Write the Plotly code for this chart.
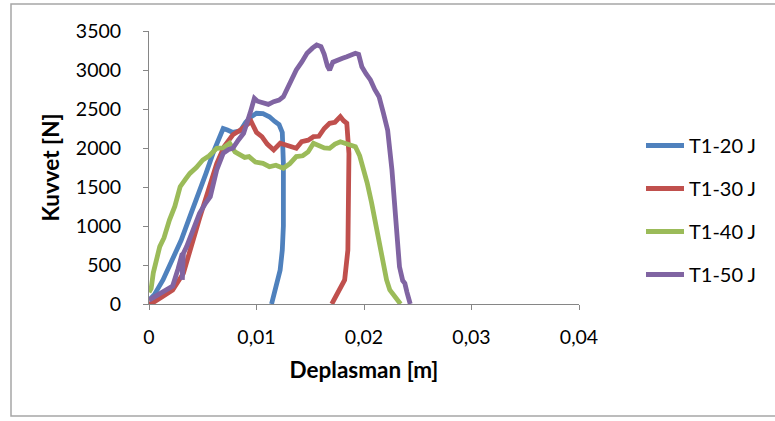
import plotly.graph_objects as go

# ---- data ----
x_ticks = [0, 0.01, 0.02, 0.03, 0.04]
x_tick_labels = ["0", "0,01", "0,02", "0,03", "0,04"]
y_ticks = [0, 500, 1000, 1500, 2000, 2500, 3000, 3500]

names = ["T1-20 J", "T1-30 J", "T1-40 J", "T1-50 J"]
colors = ["#4F81BD", "#C0504D", "#9BBB59", "#8064A2"]

x_20 = [0, 0.0005, 0.0013, 0.0022, 0.003, 0.0038, 0.0046, 0.0053, 0.006, 0.0066,
        0.0069, 0.0073, 0.0078, 0.0085, 0.009, 0.0095, 0.0100, 0.0106, 0.0112,
        0.0117, 0.0121, 0.0124, 0.0125, 0.0125, 0.0124, 0.0122, 0.0119, 0.0116, 0.0114]
y_20 = [50, 120, 308, 564, 820, 1120, 1400, 1675, 1950, 2150,
        2250, 2230, 2200, 2220, 2330, 2400, 2445, 2440, 2400,
        2340, 2300, 2200, 1800, 1000, 692, 436, 250, 120, 0]

x_30 = [0, 0.0004, 0.0012, 0.0022, 0.0032, 0.0039, 0.0047, 0.0055, 0.0063, 0.007,
        0.0078, 0.0085, 0.0091, 0.0095, 0.0100, 0.0105, 0.0110, 0.0116, 0.0122, 0.0128,
        0.0133, 0.0137, 0.0142, 0.0148, 0.0153, 0.0158, 0.0163, 0.0168, 0.0173, 0.0178,
        0.0181, 0.0184, 0.0186, 0.0186, 0.0185, 0.0182, 0.0178, 0.0174, 0.0170]
y_30 = [0, 20, 90, 180, 395, 735, 1100, 1450, 1800, 2020,
        2170, 2230, 2300, 2340, 2200, 2145, 2050, 1975, 2060, 2030,
        2000, 1996, 2080, 2100, 2145, 2150, 2250, 2317, 2330, 2402,
        2350, 2317, 1930, 1077, 692, 308, 200, 80, 0]

x_40 = [0, 0.0002, 0.0004, 0.0007, 0.001, 0.0014, 0.0019, 0.0024, 0.0029, 0.0034,
        0.0038, 0.0044, 0.005, 0.0056, 0.0063, 0.0069, 0.0075, 0.008, 0.0085, 0.0089,
        0.0093, 0.0099, 0.0106, 0.0112, 0.0118, 0.0125, 0.0131, 0.0137, 0.0143, 0.0148,
        0.0153, 0.0158, 0.0163, 0.0168, 0.0173, 0.0178, 0.0183, 0.0188, 0.0192, 0.0196,
        0.0199, 0.0203, 0.0207, 0.0211, 0.0215, 0.0218, 0.0221, 0.0224, 0.0228, 0.0231, 0.0234]
y_40 = [150, 200, 400, 550, 735, 850, 1077, 1250, 1504, 1600,
        1675, 1750, 1846, 1900, 1996, 2000, 2060, 1950, 1910, 1880,
        1890, 1820, 1804, 1760, 1780, 1740, 1800, 1890, 1900, 1950,
        2060, 2030, 2000, 1996, 2050, 2080, 2060, 2030, 2017, 1900,
        1760, 1550, 1300, 1000, 735, 500, 308, 180, 100, 50, 0]

x_50 = [0, 0.0004, 0.001, 0.0016, 0.0022, 0.0027, 0.0031, 0.0031, 0.0032, 0.0035,
        0.0041, 0.0047, 0.0053, 0.0057, 0.0063, 0.0069, 0.0074, 0.0078, 0.0083, 0.0088,
        0.0094, 0.0098, 0.0101, 0.0106, 0.0111, 0.0116, 0.0121, 0.0125, 0.0131, 0.0137,
        0.0142, 0.0147, 0.0152, 0.0156, 0.0160, 0.0163, 0.0166, 0.0168, 0.0171, 0.0175,
        0.0180, 0.0184, 0.0188, 0.0192, 0.0195, 0.0198, 0.0202, 0.0206, 0.0210, 0.0214,
        0.0218, 0.0222, 0.0226, 0.0229, 0.0233, 0.0236, 0.0238, 0.0240, 0.0243]
y_50 = [50, 80, 130, 180, 230, 450, 650, 310, 650, 735,
        950, 1163, 1300, 1376, 1718, 1932, 1980, 1996, 2100, 2188,
        2445, 2637, 2600, 2573, 2560, 2594, 2615, 2658, 2830, 3000,
        3100, 3214, 3280, 3320, 3300, 3200, 3050, 3000, 3100, 3128,
        3150, 3170, 3190, 3214, 3200, 3042, 2950, 2872, 2750, 2658,
        2450, 2230, 1718, 1163, 478, 300, 265, 150, 0]

series_x = [x_20, x_30, x_40, x_50]
series_y = [y_20, y_30, y_40, y_50]

# ---- figure ----
W, H = 775, 421
L, R, T, B = 149, 196, 31, 117
pw, ph = W - L - R, H - T - B
FONT = "Lato, 'Open Sans', sans-serif"

fig = go.Figure()
for i, (xs, ys) in enumerate(zip(series_x, series_y)):
    fig.add_trace(go.Scatter(
        x=xs, y=ys, mode="lines", name=names[i],
        line=dict(color=colors[i], width=4.8),
        legendgroup=names[i],
    ))

axis_common = dict(
    showgrid=False, zeroline=False, showline=True, linecolor="#868686", linewidth=1,
    ticks="outside", tickcolor="#868686", ticklen=5,
    tickfont=dict(family=FONT, size=19.5, color="#000000"),
)

fig.update_layout(
    width=W, height=H,
    margin=dict(l=L, r=R, t=T, b=B),
    paper_bgcolor="white", plot_bgcolor="white",
    font=dict(family=FONT, color="#000000"),
    xaxis=dict(range=[0, 0.04], tickvals=x_ticks, ticktext=x_tick_labels,
               ticklabelstandoff=11,
               title=dict(text="<b>Deplasman [m]</b>", font=dict(family=FONT, size=22.5),
                          standoff=14),
               **axis_common),
    yaxis=dict(range=[0, 3500], tickvals=y_ticks, ticklabelstandoff=18,
               title=dict(text="<b>Kuvvet [N]</b>", font=dict(family=FONT, size=22.5),
                          standoff=9),
               **axis_common),
    showlegend=True,
    legend=dict(x=(641 - L) / pw, xanchor="left", y=(H - B - 126) / ph, yanchor="top",
                font=dict(family=FONT, size=20), tracegroupgap=14, itemwidth=38,
                bgcolor="rgba(0,0,0,0)"),
)

# outer chart border
fig.add_shape(type="rect", xref="paper", yref="paper",
              x0=(11 - L) / pw, x1=(790 - L) / pw,
              y0=(H - B - 416) / ph, y1=(H - B - 4) / ph,
              line=dict(color="#A6A6A6", width=1.5), layer="below")

fig.write_html("out.html")
